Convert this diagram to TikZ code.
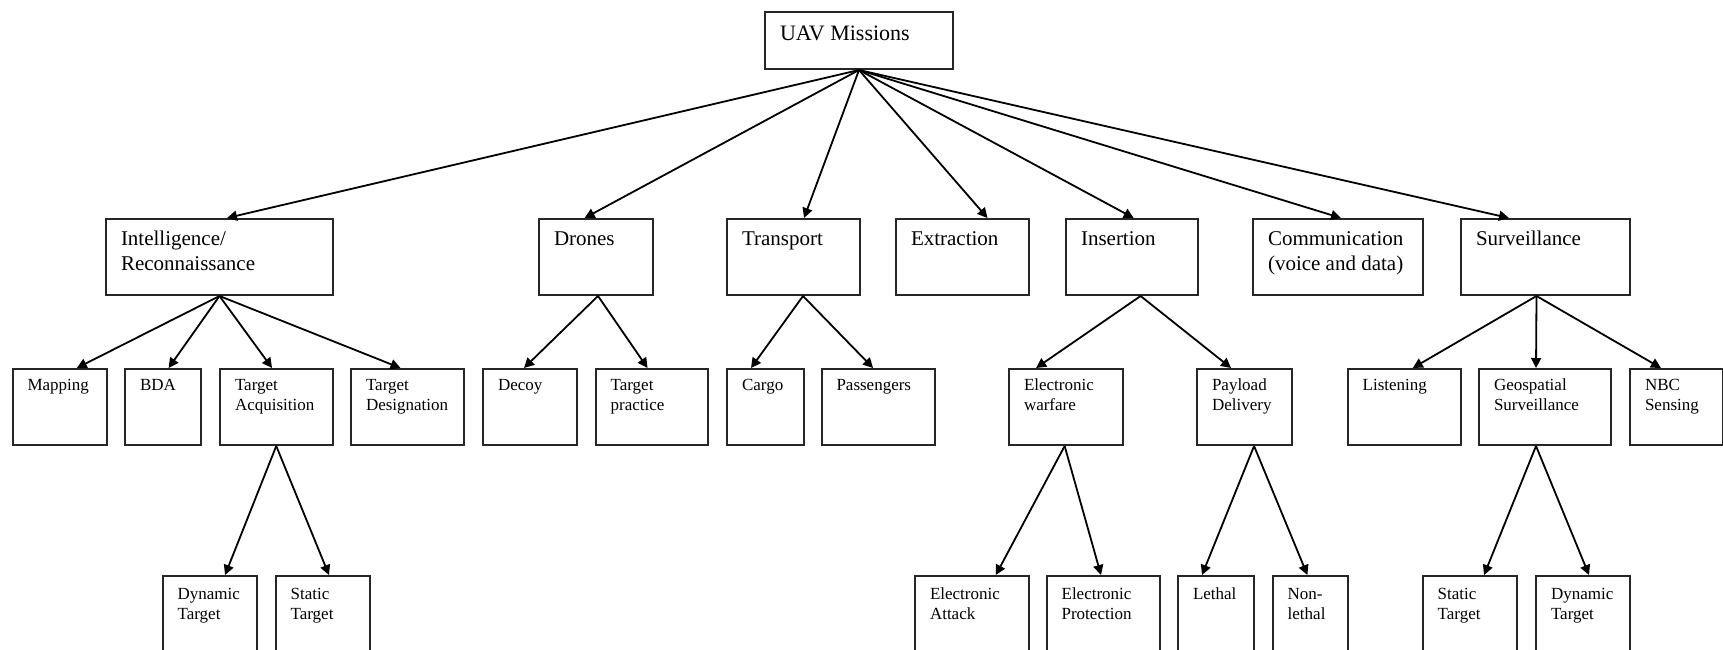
\documentclass[tikz,border=0pt]{standalone}
\usepackage{fontspec}
\setmainfont{Liberation Serif}
\usetikzlibrary{arrows.meta}

% box text: width, height, first baseline, text
\newcommand{\cell}[4]{\parbox[c][#2][t]{#1}{\raggedright\leftskip=7.5pt\rule{0pt}{#3}#4}}

\begin{document}
\begin{tikzpicture}[x=0.5pt, y=-0.5pt,
  box/.style={draw=black!85, line width=1pt, inner sep=0pt, anchor=north west},
  rootbox/.style={box, font=\fontsize{11}{13}\selectfont},
  mainbox/.style={box, font=\fontsize{10.5}{12.5}\selectfont},
  subbox/.style={box, font=\fontsize{8.5}{10}\selectfont},
  arr/.style={-{Triangle[length=5pt,width=5pt]}, line width=0.9pt}]
  \clip (0,0) rectangle (1723,649);

  \node [rootbox] (uav) at (764,11) {\cell{94pt}{28.5pt}{14.3pt}{UAV Missions}};

  % first level
  \node [mainbox] (intel) at (105,218) {\cell{113.5pt}{38pt}{13pt}{Intelligence/\\Reconnaissance}};
  \node [mainbox] (drones) at (538,218) {\cell{57pt}{38pt}{13pt}{Drones}};
  \node [mainbox] (transport) at (726,218) {\cell{66.5pt}{38pt}{13pt}{Transport}};
  \node [mainbox] (extraction) at (895,218) {\cell{66.5pt}{38pt}{13pt}{Extraction}};
  \node [mainbox] (insertion) at (1065,218) {\cell{66pt}{38pt}{13pt}{Insertion}};
  \node [mainbox] (comm) at (1252,218) {\cell{85pt}{38pt}{13pt}{Communication\\(voice and data)}};
  \node [mainbox] (surv) at (1460,218) {\cell{84.5pt}{38pt}{13pt}{Surveillance}};

  % second level
  \node [subbox] (mapping) at (11.5,368) {\cell{47pt}{38pt}{10.6pt}{Mapping}};
  \node [subbox] (bda) at (124,368) {\cell{38pt}{38pt}{10.6pt}{BDA}};
  \node [subbox] (tacq) at (219,368) {\cell{56.25pt}{38pt}{10.6pt}{Target\\Acquisition}};
  \node [subbox] (tdes) at (350,368) {\cell{56.5pt}{38pt}{10.6pt}{Target\\Designation}};
  \node [subbox] (decoy) at (482,368) {\cell{47pt}{38pt}{10.6pt}{Decoy}};
  \node [subbox] (tprac) at (594.6,368) {\cell{56.25pt}{38pt}{10.6pt}{Target\\practice}};
  \node [subbox] (cargo) at (726,368) {\cell{38.3pt}{38pt}{10.6pt}{Cargo}};
  \node [subbox] (pass) at (820.5,368) {\cell{56.75pt}{38pt}{10.6pt}{Passengers}};
  \node [subbox] (ewar) at (1008,368) {\cell{56.85pt}{38pt}{10.6pt}{Electronic\\warfare}};
  \node [subbox] (payload) at (1196,368) {\cell{47.25pt}{38pt}{10.6pt}{Payload\\Delivery}};
  \node [subbox] (listen) at (1346.7,368) {\cell{56.65pt}{38pt}{10.6pt}{Listening}};
  \node [subbox] (geo) at (1478,368) {\cell{66pt}{38pt}{10.6pt}{Geospatial\\Surveillance}};
  \node [subbox] (nbc) at (1629,368) {\cell{46.5pt}{38pt}{10.6pt}{NBC\\Sensing}};

  % third level, cut off at the bottom
  \node [subbox] (dyn1) at (161.6,575) {\cell{47.25pt}{40pt}{11.6pt}{Dynamic\\Target}};
  \node [subbox] (stat1) at (274.6,575) {\cell{47pt}{40pt}{11.6pt}{Static\\Target}};
  \node [subbox] (eatt) at (914,575) {\cell{56.8pt}{40pt}{11.6pt}{Electronic\\Attack}};
  \node [subbox] (eprot) at (1045.6,575) {\cell{56.7pt}{40pt}{11.6pt}{Electronic\\Protection}};
  \node [subbox] (lethal) at (1177,575) {\cell{38pt}{40pt}{11.6pt}{Lethal}};
  \node [subbox] (nonleth) at (1271.7,575) {\cell{37.5pt}{40pt}{11.6pt}{Non-\\lethal}};
  \node [subbox] (stat2) at (1421.7,575) {\cell{47.15pt}{40pt}{11.6pt}{Static\\Target}};
  \node [subbox] (dyn2) at (1535,575) {\cell{47pt}{40pt}{11.6pt}{Dynamic\\Target}};

  % arrows from the root
  \draw [arr] (uav.south) -- ([xshift=3.75pt]intel.north);
  \draw [arr] (uav.south) -- ([xshift=-5.7pt]drones.north);
  \draw [arr] (uav.south) -- ([xshift=5.25pt]transport.north);
  \draw [arr] (uav.south) -- ([xshift=12.5pt]extraction.north);
  \draw [arr] (uav.south) -- ([xshift=0.85pt]insertion.north);
  \draw [arr] (uav.south) -- ([xshift=1.5pt]comm.north);
  \draw [arr] (uav.south) -- ([xshift=-18.25pt]surv.north);

  % second level arrows
  \draw [arr] (intel.south) -- ([xshift=8.65pt]mapping.north);
  \draw [arr] (intel.south) -- ([xshift=2.8pt]bda.north);
  \draw [arr] (intel.south) -- ([xshift=-2.1pt]tacq.north);
  \draw [arr] (intel.south) -- ([xshift=-3.5pt]tdes.north);
  \draw [arr] ([xshift=1pt]drones.south) -- ([xshift=-3pt]decoy.north);
  \draw [arr] ([xshift=1pt]drones.south) -- ([xshift=-2.15pt]tprac.north);
  \draw [arr] ([xshift=4.75pt]transport.south) -- ([xshift=-7.15pt]cargo.north);
  \draw [arr] ([xshift=4.75pt]transport.south) -- ([xshift=-2.6pt]pass.north);
  \draw [arr] ([xshift=4.3pt]insertion.south) -- ([xshift=-14.9pt]ewar.north);
  \draw [arr] ([xshift=4.3pt]insertion.south) -- ([xshift=-6.6pt]payload.north);
  \draw [arr] ([xshift=-4.5pt]surv.south) -- ([xshift=4.2pt]listen.north);
  \draw [arr] ([xshift=-4.5pt]surv.south) -- ([xshift=-4.5pt]geo.north);
  \draw [arr] ([xshift=-4.5pt]surv.south) -- ([xshift=-7.75pt]nbc.north);

  % third level arrows
  \draw [arr] (tacq.south) -- ([xshift=7.6pt]dyn1.north);
  \draw [arr] (tacq.south) -- ([xshift=3.2pt]stat1.north);
  \draw [arr] ([xshift=-0.6pt]ewar.south) -- ([xshift=12pt]eatt.north);
  \draw [arr] ([xshift=-0.6pt]ewar.south) -- ([xshift=-1.15pt]eprot.north);
  \draw [arr] ([xshift=4.9pt]payload.south) -- ([xshift=-7pt]lethal.north);
  \draw [arr] ([xshift=4.9pt]payload.south) -- ([xshift=-1.4pt]nonleth.north);
  \draw [arr] ([xshift=-4.5pt]geo.south) -- ([xshift=7.1pt]stat2.north);
  \draw [arr] ([xshift=-4.5pt]geo.south) -- ([xshift=3pt]dyn2.north);
\end{tikzpicture}
\end{document}
